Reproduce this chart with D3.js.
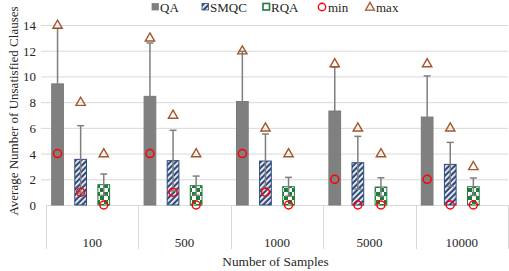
<!DOCTYPE html>
<html><head><meta charset="utf-8">
<script src="https://cdn.jsdelivr.net/npm/d3@7"></script>
<style>
body{margin:0;background:#fff}
#wrap{position:relative;width:509px;height:271px;overflow:hidden}
svg{display:block;position:absolute;left:0;top:0}
</style>
</head><body><div id="wrap"><svg id="c" width="509" height="271"></svg></div>
<script>
const categories = ["100","500","1000","5000","10000"];
const seriesNames = ["QA","SMQC","RQA"];
const qaMean   = [9.42, 8.45, 8.05, 7.31, 6.84];
const qaSD     = [4.32, 4.15, 3.90, 3.42, 3.20];
const smqcMean = [3.55, 3.45, 3.42, 3.29, 3.16];
const smqcSD   = [2.62, 2.36, 2.10, 2.05, 1.71];
const rqaMean  = [1.58, 1.50, 1.42, 1.40, 1.42];
const rqaSD    = [0.83, 0.75, 0.73, 0.72, 0.68];
const minQA = [4,4,4,2,2], minSMQC = [1,1,1,0,0], minRQA = [0,0,0,0,0];
const maxQA = [14,13,12,11,11], maxSMQC = [8,7,6,6,6], maxRQA = [4,4,4,4,3];
const yTicks = [0,2,4,6,8,10,12,14];

const means = [qaMean, smqcMean, rqaMean];
const sds = [qaSD, smqcSD, rqaSD];
const mins = [minQA, minSMQC, minRQA];
const maxs = [maxQA, maxSMQC, maxRQA];

const wrap = d3.select("#wrap");
const svg = d3.select("#c");
const L = 46, R = 508, T = 25, B = 205;
const x = d3.scaleBand().domain(categories).range([L, R]).padding(0);
const xs = d3.scaleBand().domain(["QA","SMQC","RQA","_"]).range([0, x.bandwidth()]).paddingInner(0.45).paddingOuter(0.225);
const y = d3.scaleLinear().domain([0,14]).range([B, T]);

function label(text, px, cy, size, ax, rot){
  const d = wrap.append("div").text(text)
    .style("position","absolute")
    .style("font-family","'Times New Roman', 'Liberation Serif', serif")
    .style("color","#262626").style("white-space","nowrap").style("line-height","1")
    .style("font-size", size+"px").style("left", px+"px").style("top", cy+"px");
  let tf = `translate(${-ax*100}%,-50%)`;
  if (rot) { d.style("transform-origin","0 0"); tf = `rotate(${rot}deg) translate(${-ax*100}%,-50%)`; }
  d.style("transform", tf);
  return d;
}

const defs = svg.append("defs");
const ph = defs.append("pattern").attr("id","hatch").attr("patternUnits","userSpaceOnUse").attr("width",4).attr("height",4).attr("patternTransform","rotate(45)");
ph.append("rect").attr("width",4).attr("height",4).attr("fill","#2f4b7c");
ph.append("rect").attr("x",0).attr("width",1.7).attr("height",4).attr("fill","#ffffff");
const pc = defs.append("pattern").attr("id","check").attr("patternUnits","userSpaceOnUse").attr("width",8).attr("height",8);
pc.append("rect").attr("width",8).attr("height",8).attr("fill","#ffffff");
pc.append("rect").attr("width",4).attr("height",4).attr("fill","#1e7b3c");
pc.append("rect").attr("x",4).attr("y",4).attr("width",4).attr("height",4).attr("fill","#1e7b3c");

const fills = ["#808080","url(#hatch)","url(#check)"];
const strokes = ["#7a7a7a","#2f4b7c","#1e7b3c"];

svg.append("g").selectAll("line").data(yTicks.filter(d=>d>0)).join("line")
  .attr("x1", 41).attr("x2", R).attr("y1", d=>y(d)+0.5).attr("y2", d=>y(d)+0.5)
  .attr("stroke","#d9d9d9").attr("stroke-width",1);

yTicks.forEach(d=>label(String(d), 36, y(d), 13, 1));

svg.append("line").attr("x1",L).attr("x2",R).attr("y1",B+0.5).attr("y2",B+0.5).attr("stroke","#d9d9d9");
const seps = categories.map(c=>x(c)).concat([R]);
svg.append("g").selectAll("line").data(seps).join("line")
  .attr("x1", d=>Math.round(d)+0.5).attr("x2", d=>Math.round(d)+0.5).attr("y1", B).attr("y2", 249)
  .attr("stroke","#d9d9d9");
categories.forEach(c=>label(c, x(c)+x.bandwidth()/2, 242, 13, 0.5));

seriesNames.forEach((s,si)=>{
  svg.append("g").selectAll("rect").data(categories).join("rect")
    .attr("x", (c)=>x(c)+xs(s)+0.5).attr("width", xs.bandwidth()-1)
    .attr("y", (c,i)=>y(means[si][i])).attr("height",(c,i)=>B-y(means[si][i]))
    .attr("fill", fills[si]).attr("stroke", strokes[si]).attr("stroke-width",1);
});

seriesNames.forEach((s,si)=>{
  const g = svg.append("g").attr("stroke","#7f7f7f").attr("stroke-width",1.5);
  categories.forEach((c,i)=>{
    const cx = x(c)+xs(s)+xs.bandwidth()/2;
    const hi = y(means[si][i]+sds[si][i]), lo = y(Math.max(0,means[si][i]-sds[si][i]));
    g.append("line").attr("x1",cx).attr("x2",cx).attr("y1",hi).attr("y2",lo);
    g.append("line").attr("x1",cx-3.5).attr("x2",cx+3.5).attr("y1",hi).attr("y2",hi);
    g.append("line").attr("x1",cx-3.5).attr("x2",cx+3.5).attr("y1",lo).attr("y2",lo);
  });
});

const tri = d3.symbol().type(d3.symbolTriangle).size(38);
seriesNames.forEach((s,si)=>{
  categories.forEach((c,i)=>{
    const cx = x(c)+xs(s)+xs.bandwidth()/2;
    svg.append("circle").attr("cx",cx).attr("cy",y(mins[si][i])).attr("r",4)
      .attr("fill","none").attr("stroke","#ff0000").attr("stroke-width",1.5);
    svg.append("path").attr("d",tri).attr("transform",`translate(${cx},${y(maxs[si][i])+0.5})`)
      .attr("fill","none").attr("stroke","#a5562a").attr("stroke-width",1.4);
  });
});

label("Average Number of Unsatisfied Clauses", 13, (T+B)/2-4, 13, 0.5, -90);
label("Number of Samples", 275.5, 262, 13.3, 0.5);

const legend = [
  {name:"QA", x:152, kind:"rect", fill:"#808080", stroke:"#808080"},
  {name:"SMQC", x:202, kind:"rect", fill:"url(#hatch)", stroke:"#2f4b7c"},
  {name:"RQA", x:263, kind:"rect", fill:"#ffffff", stroke:"#1e7b3c"},
  {name:"min", x:318, kind:"circle"},
  {name:"max", x:366, kind:"tri"}
];
const lg = svg.append("g");
legend.forEach(d=>{
  if(d.kind==="rect") lg.append("rect").attr("x",d.x).attr("y",3.5).attr("width",6.5).attr("height",6.5)
      .attr("fill",d.fill).attr("stroke",d.stroke).attr("stroke-width",d.name==="RQA"?1.6:0.8);
  else if(d.kind==="circle") lg.append("circle").attr("cx",d.x+4).attr("cy",7).attr("r",3.7)
      .attr("fill","none").attr("stroke","#ff0000").attr("stroke-width",1.4);
  else lg.append("path").attr("d",d3.symbol().type(d3.symbolTriangle).size(34)).attr("transform",`translate(${d.x+4},7.5)`)
      .attr("fill","none").attr("stroke","#a5562a").attr("stroke-width",1.3);
  label(d.name, d.x+(d.kind==="rect"?8:10), 7, 13, 0);
});
</script></body></html>
